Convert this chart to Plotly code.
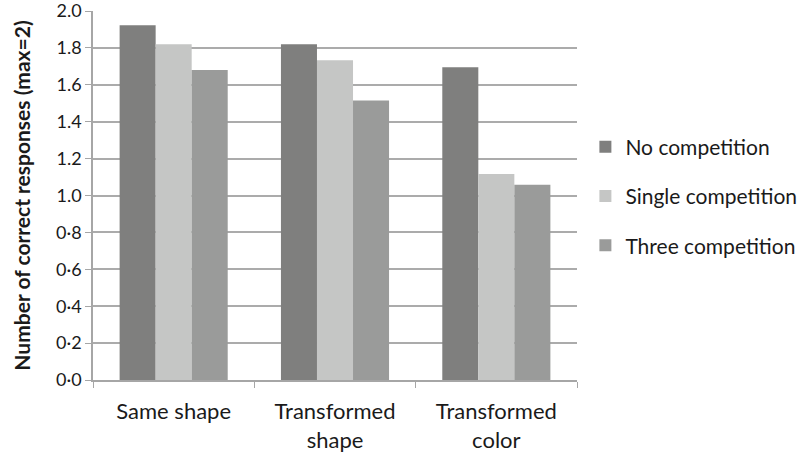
import plotly.graph_objects as go

categories = ["Same shape", "Transformed<br>shape", "Transformed<br>color"]
no_competition = [1.923, 1.82, 1.696]
single_competition = [1.82, 1.734, 1.117]
three_competition = [1.68, 1.515, 1.058]

tick_vals = [0.0, 0.2, 0.4, 0.6, 0.8, 1.0, 1.2, 1.4, 1.6, 1.8, 2.0]
tick_text = ["0·0", "0·2", "0·4", "0·6", "0·8", "1.0", "1.2", "1.4", "1.6", "1.8", "2.0"]

series = [
    ("No competition", no_competition, "#7f7f7e"),
    ("Single competition", single_competition, "#c5c6c5"),
    ("Three competition", three_competition, "#9a9b9a"),
]

font_family = "Lato, Open Sans, sans-serif"
text_color = "#1a1a1a"
axis_color = "#a6a6a6"

fig = go.Figure()
for i, (name, vals, color) in enumerate(series):
    fig.add_trace(go.Bar(
        x=categories, y=vals, name=name,
        marker=dict(color=color, line=dict(width=0)),
        legendgroup=f"g{i}",
    ))

fig.update_layout(
    width=803, height=456,
    margin=dict(l=93, r=226, t=11, b=76),
    paper_bgcolor="white", plot_bgcolor="white",
    barmode="group", bargap=0.33, bargroupgap=0,
    font=dict(family=font_family, size=18, color=text_color),
    showlegend=True,
    legend=dict(
        xref="container", yref="container",
        x=0.729, y=0.57, xanchor="left", yanchor="middle",
        font=dict(size=21, color=text_color),
        traceorder="grouped", tracegroupgap=19,
        itemwidth=30,
    ),
    xaxis=dict(
        automargin=False,
        showline=True, linecolor=axis_color, linewidth=1.5,
        ticks="outside", tickson="boundaries", ticklen=6, tickcolor=axis_color,
        tickfont=dict(size=22, color=text_color),
        ticklabelstandoff=11,
        showgrid=False,
    ),
    yaxis=dict(
        automargin=False,
        range=[0, 2.0005], tickvals=tick_vals, ticktext=tick_text,
        ticklabeloverflow="allow",
        showline=True, linecolor=axis_color, linewidth=1.5,
        ticks="outside", ticklen=6, tickcolor=axis_color,
        showgrid=True, gridcolor="#ababab", gridwidth=1.5,
        zeroline=False,
        tickfont=dict(size=18, color=text_color),
        title=dict(text="<b>Number of correct responses (max=2)</b>",
                   font=dict(size=21, color=text_color), standoff=20),
    ),
)

fig.write_html("out.html")
